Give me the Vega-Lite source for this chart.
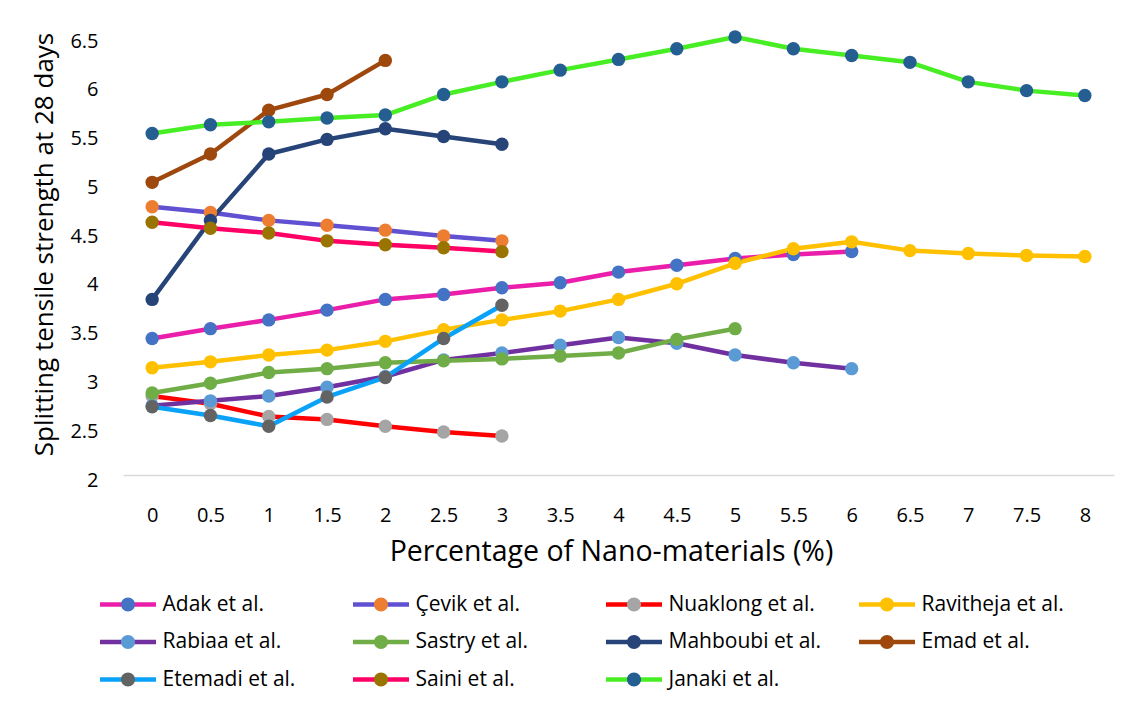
{
  "$schema": "https://vega.github.io/schema/vega-lite/v6.json",
  "width": 991,
  "height": 439,
  "autosize": {"type": "none"},
  "padding": {"left": 123, "top": 36, "right": 18, "bottom": 227},
  "background": "white",
  "config": {"view": {"stroke": null}, "font": "Open Sans"},
  "data": {
    "values": [
      {"study": "Adak et al.", "pct": 0, "strength": 3.40},
      {"study": "Adak et al.", "pct": 0.5, "strength": 3.50},
      {"study": "Adak et al.", "pct": 1, "strength": 3.59},
      {"study": "Adak et al.", "pct": 1.5, "strength": 3.69},
      {"study": "Adak et al.", "pct": 2, "strength": 3.80},
      {"study": "Adak et al.", "pct": 2.5, "strength": 3.85},
      {"study": "Adak et al.", "pct": 3, "strength": 3.92},
      {"study": "Adak et al.", "pct": 3.5, "strength": 3.97},
      {"study": "Adak et al.", "pct": 4, "strength": 4.08},
      {"study": "Adak et al.", "pct": 4.5, "strength": 4.15},
      {"study": "Adak et al.", "pct": 5, "strength": 4.22},
      {"study": "Adak et al.", "pct": 5.5, "strength": 4.26},
      {"study": "Adak et al.", "pct": 6, "strength": 4.29},
      {"study": "Çevik et al.", "pct": 0, "strength": 4.75},
      {"study": "Çevik et al.", "pct": 0.5, "strength": 4.69},
      {"study": "Çevik et al.", "pct": 1, "strength": 4.61},
      {"study": "Çevik et al.", "pct": 1.5, "strength": 4.56},
      {"study": "Çevik et al.", "pct": 2, "strength": 4.51},
      {"study": "Çevik et al.", "pct": 2.5, "strength": 4.45},
      {"study": "Çevik et al.", "pct": 3, "strength": 4.40},
      {"study": "Nuaklong et al.", "pct": 0, "strength": 2.81},
      {"study": "Nuaklong et al.", "pct": 0.5, "strength": 2.73},
      {"study": "Nuaklong et al.", "pct": 1, "strength": 2.60},
      {"study": "Nuaklong et al.", "pct": 1.5, "strength": 2.57},
      {"study": "Nuaklong et al.", "pct": 2, "strength": 2.50},
      {"study": "Nuaklong et al.", "pct": 2.5, "strength": 2.44},
      {"study": "Nuaklong et al.", "pct": 3, "strength": 2.40},
      {"study": "Ravitheja et al.", "pct": 0, "strength": 3.10},
      {"study": "Ravitheja et al.", "pct": 0.5, "strength": 3.16},
      {"study": "Ravitheja et al.", "pct": 1, "strength": 3.23},
      {"study": "Ravitheja et al.", "pct": 1.5, "strength": 3.28},
      {"study": "Ravitheja et al.", "pct": 2, "strength": 3.37},
      {"study": "Ravitheja et al.", "pct": 2.5, "strength": 3.49},
      {"study": "Ravitheja et al.", "pct": 3, "strength": 3.59},
      {"study": "Ravitheja et al.", "pct": 3.5, "strength": 3.68},
      {"study": "Ravitheja et al.", "pct": 4, "strength": 3.80},
      {"study": "Ravitheja et al.", "pct": 4.5, "strength": 3.96},
      {"study": "Ravitheja et al.", "pct": 5, "strength": 4.17},
      {"study": "Ravitheja et al.", "pct": 5.5, "strength": 4.32},
      {"study": "Ravitheja et al.", "pct": 6, "strength": 4.39},
      {"study": "Ravitheja et al.", "pct": 6.5, "strength": 4.30},
      {"study": "Ravitheja et al.", "pct": 7, "strength": 4.27},
      {"study": "Ravitheja et al.", "pct": 7.5, "strength": 4.25},
      {"study": "Ravitheja et al.", "pct": 8, "strength": 4.24},
      {"study": "Rabiaa et al.", "pct": 0, "strength": 2.71},
      {"study": "Rabiaa et al.", "pct": 0.5, "strength": 2.76},
      {"study": "Rabiaa et al.", "pct": 1, "strength": 2.81},
      {"study": "Rabiaa et al.", "pct": 1.5, "strength": 2.90},
      {"study": "Rabiaa et al.", "pct": 2, "strength": 3.01},
      {"study": "Rabiaa et al.", "pct": 2.5, "strength": 3.18},
      {"study": "Rabiaa et al.", "pct": 3, "strength": 3.25},
      {"study": "Rabiaa et al.", "pct": 3.5, "strength": 3.33},
      {"study": "Rabiaa et al.", "pct": 4, "strength": 3.41},
      {"study": "Rabiaa et al.", "pct": 4.5, "strength": 3.35},
      {"study": "Rabiaa et al.", "pct": 5, "strength": 3.23},
      {"study": "Rabiaa et al.", "pct": 5.5, "strength": 3.15},
      {"study": "Rabiaa et al.", "pct": 6, "strength": 3.09},
      {"study": "Sastry et al.", "pct": 0, "strength": 2.84},
      {"study": "Sastry et al.", "pct": 0.5, "strength": 2.94},
      {"study": "Sastry et al.", "pct": 1, "strength": 3.05},
      {"study": "Sastry et al.", "pct": 1.5, "strength": 3.09},
      {"study": "Sastry et al.", "pct": 2, "strength": 3.15},
      {"study": "Sastry et al.", "pct": 2.5, "strength": 3.17},
      {"study": "Sastry et al.", "pct": 3, "strength": 3.19},
      {"study": "Sastry et al.", "pct": 3.5, "strength": 3.22},
      {"study": "Sastry et al.", "pct": 4, "strength": 3.25},
      {"study": "Sastry et al.", "pct": 4.5, "strength": 3.39},
      {"study": "Sastry et al.", "pct": 5, "strength": 3.50},
      {"study": "Mahboubi et al.", "pct": 0, "strength": 3.80},
      {"study": "Mahboubi et al.", "pct": 0.5, "strength": 4.61},
      {"study": "Mahboubi et al.", "pct": 1, "strength": 5.29},
      {"study": "Mahboubi et al.", "pct": 1.5, "strength": 5.44},
      {"study": "Mahboubi et al.", "pct": 2, "strength": 5.55},
      {"study": "Mahboubi et al.", "pct": 2.5, "strength": 5.47},
      {"study": "Mahboubi et al.", "pct": 3, "strength": 5.39},
      {"study": "Emad et al.", "pct": 0, "strength": 5.00},
      {"study": "Emad et al.", "pct": 0.5, "strength": 5.29},
      {"study": "Emad et al.", "pct": 1, "strength": 5.74},
      {"study": "Emad et al.", "pct": 1.5, "strength": 5.90},
      {"study": "Emad et al.", "pct": 2, "strength": 6.25},
      {"study": "Etemadi et al.", "pct": 0, "strength": 2.70},
      {"study": "Etemadi et al.", "pct": 0.5, "strength": 2.61},
      {"study": "Etemadi et al.", "pct": 1, "strength": 2.50},
      {"study": "Etemadi et al.", "pct": 1.5, "strength": 2.80},
      {"study": "Etemadi et al.", "pct": 2, "strength": 3.00},
      {"study": "Etemadi et al.", "pct": 2.5, "strength": 3.40},
      {"study": "Etemadi et al.", "pct": 3, "strength": 3.74},
      {"study": "Saini et al.", "pct": 0, "strength": 4.59},
      {"study": "Saini et al.", "pct": 0.5, "strength": 4.53},
      {"study": "Saini et al.", "pct": 1, "strength": 4.48},
      {"study": "Saini et al.", "pct": 1.5, "strength": 4.40},
      {"study": "Saini et al.", "pct": 2, "strength": 4.36},
      {"study": "Saini et al.", "pct": 2.5, "strength": 4.33},
      {"study": "Saini et al.", "pct": 3, "strength": 4.29},
      {"study": "Janaki et al.", "pct": 0, "strength": 5.50},
      {"study": "Janaki et al.", "pct": 0.5, "strength": 5.59},
      {"study": "Janaki et al.", "pct": 1, "strength": 5.62},
      {"study": "Janaki et al.", "pct": 1.5, "strength": 5.66},
      {"study": "Janaki et al.", "pct": 2, "strength": 5.69},
      {"study": "Janaki et al.", "pct": 2.5, "strength": 5.90},
      {"study": "Janaki et al.", "pct": 3, "strength": 6.03},
      {"study": "Janaki et al.", "pct": 3.5, "strength": 6.15},
      {"study": "Janaki et al.", "pct": 4, "strength": 6.26},
      {"study": "Janaki et al.", "pct": 4.5, "strength": 6.37},
      {"study": "Janaki et al.", "pct": 5, "strength": 6.49},
      {"study": "Janaki et al.", "pct": 5.5, "strength": 6.37},
      {"study": "Janaki et al.", "pct": 6, "strength": 6.30},
      {"study": "Janaki et al.", "pct": 6.5, "strength": 6.23},
      {"study": "Janaki et al.", "pct": 7, "strength": 6.03},
      {"study": "Janaki et al.", "pct": 7.5, "strength": 5.94},
      {"study": "Janaki et al.", "pct": 8, "strength": 5.89}
    ]
  },
  "layer": [
    {
      "mark": {"type": "line", "strokeWidth": 4.5, "strokeJoin": "round", "strokeCap": "round"},
      "encoding": {
        "x": {
          "field": "pct",
          "type": "quantitative",
          "title": "Percentage of Nano-materials (%)",
          "scale": {"domain": [-0.25, 8.25], "nice": false, "zero": false},
          "axis": {
            "values": [0, 0.5, 1, 1.5, 2, 2.5, 3, 3.5, 4, 4.5, 5, 5.5, 6, 6.5, 7, 7.5, 8],
            "format": "~g",
            "grid": false,
            "ticks": false,
            "tickSize": 0,
            "domain": true,
            "domainColor": "#D9D9D9",
            "domainWidth": 1.5,
            "labelFont": "Open Sans",
            "labelFontSize": 20,
            "labelColor": "#000000",
            "labelPadding": 30,
            "labelFlush": false,
            "labelOverlap": false,
            "titleFont": "Open Sans",
            "titleFontSize": 28.5,
            "titleFontWeight": "normal",
            "titleColor": "#000000",
            "titlePadding": 12,
            "titleX": 488
          }
        },
        "y": {
          "field": "strength",
          "type": "quantitative",
          "title": "Splitting tensile strength at 28 days",
          "scale": {"domain": [2, 6.5], "nice": false, "zero": false},
          "axis": {
            "values": [2, 2.5, 3, 3.5, 4, 4.5, 5, 5.5, 6, 6.5],
            "format": "~g",
            "grid": false,
            "ticks": false,
            "tickSize": 0,
            "domain": false,
            "labelFont": "Open Sans",
            "labelFontSize": 20,
            "labelColor": "#000000",
            "labelPadding": 25,
            "labelOffset": 5,
            "labelOverlap": false,
            "titleFont": "Open Sans",
            "titleFontSize": 26,
            "titleFontWeight": "normal",
            "titleColor": "#000000",
            "titlePadding": 12,
            "titleY": 208
          }
        },
        "stroke": {
          "field": "study",
          "type": "nominal",
          "scale": {
            "domain": ["Adak et al.", "Çevik et al.", "Nuaklong et al.", "Ravitheja et al.", "Rabiaa et al.", "Sastry et al.", "Mahboubi et al.", "Emad et al.", "Etemadi et al.", "Saini et al.", "Janaki et al."],
            "range": ["#EA1EAA", "#6050D2", "#FF0000", "#FFC000", "#7030A0", "#70AD47", "#264478", "#9E480E", "#0AA2F8", "#FF0066", "#48EE24"]
          },
          "legend": {
            "title": null,
            "orient": "none",
            "direction": "horizontal",
            "legendX": -25.5,
            "legendY": 552,
            "columns": 4,
            "gridAlign": "all",
            "columnPadding": 35,
            "rowPadding": 4.5,
            "clipHeight": 33,
            "padding": 0,
            "symbolType": "stroke",
            "symbolSize": 3136,
            "symbolStrokeWidth": 4.5,
            "labelFont": "Open Sans",
            "labelFontSize": 21,
            "labelColor": "#000000",
            "labelOffset": 4,
            "labelLimit": 400,
            "zindex": 0
          }
        }
      }
    },
    {
      "mark": {"type": "circle", "size": 180, "opacity": 1},
      "encoding": {
        "x": {"field": "pct", "type": "quantitative"},
        "y": {"field": "strength", "type": "quantitative"},
        "fill": {
          "field": "study",
          "type": "nominal",
          "sort": ["Adak et al.", "Çevik et al.", "Nuaklong et al.", "Ravitheja et al.", "Rabiaa et al.", "Sastry et al.", "Mahboubi et al.", "Emad et al.", "Etemadi et al.", "Saini et al.", "Janaki et al."],
          "scale": {
            "range": ["#4472C4", "#ED7D31", "#A5A5A5", "#FFC000", "#5B9BD5", "#70AD47", "#264478", "#9E480E", "#636363", "#9A7400", "#255E91"]
          },
          "legend": {
            "title": null,
            "orient": "none",
            "direction": "horizontal",
            "legendX": -25.5,
            "legendY": 552,
            "columns": 4,
            "gridAlign": "all",
            "columnPadding": 35,
            "rowPadding": 4.5,
            "clipHeight": 33,
            "padding": 0,
            "symbolType": "M-1,0L1,0M-0.25,0A0.25,0.25,0,1,1,0.25,0A0.25,0.25,0,1,1,-0.25,0Z",
            "symbolSize": 3136,
            "symbolStrokeWidth": 4.5,
            "symbolStrokeColor": "transparent",
            "symbolOpacity": 1,
            "labelFont": "Open Sans",
            "labelFontSize": 21,
            "labelColor": "transparent",
            "labelOffset": 4,
            "labelLimit": 400,
            "zindex": 1
          }
        }
      }
    }
  ]
}
